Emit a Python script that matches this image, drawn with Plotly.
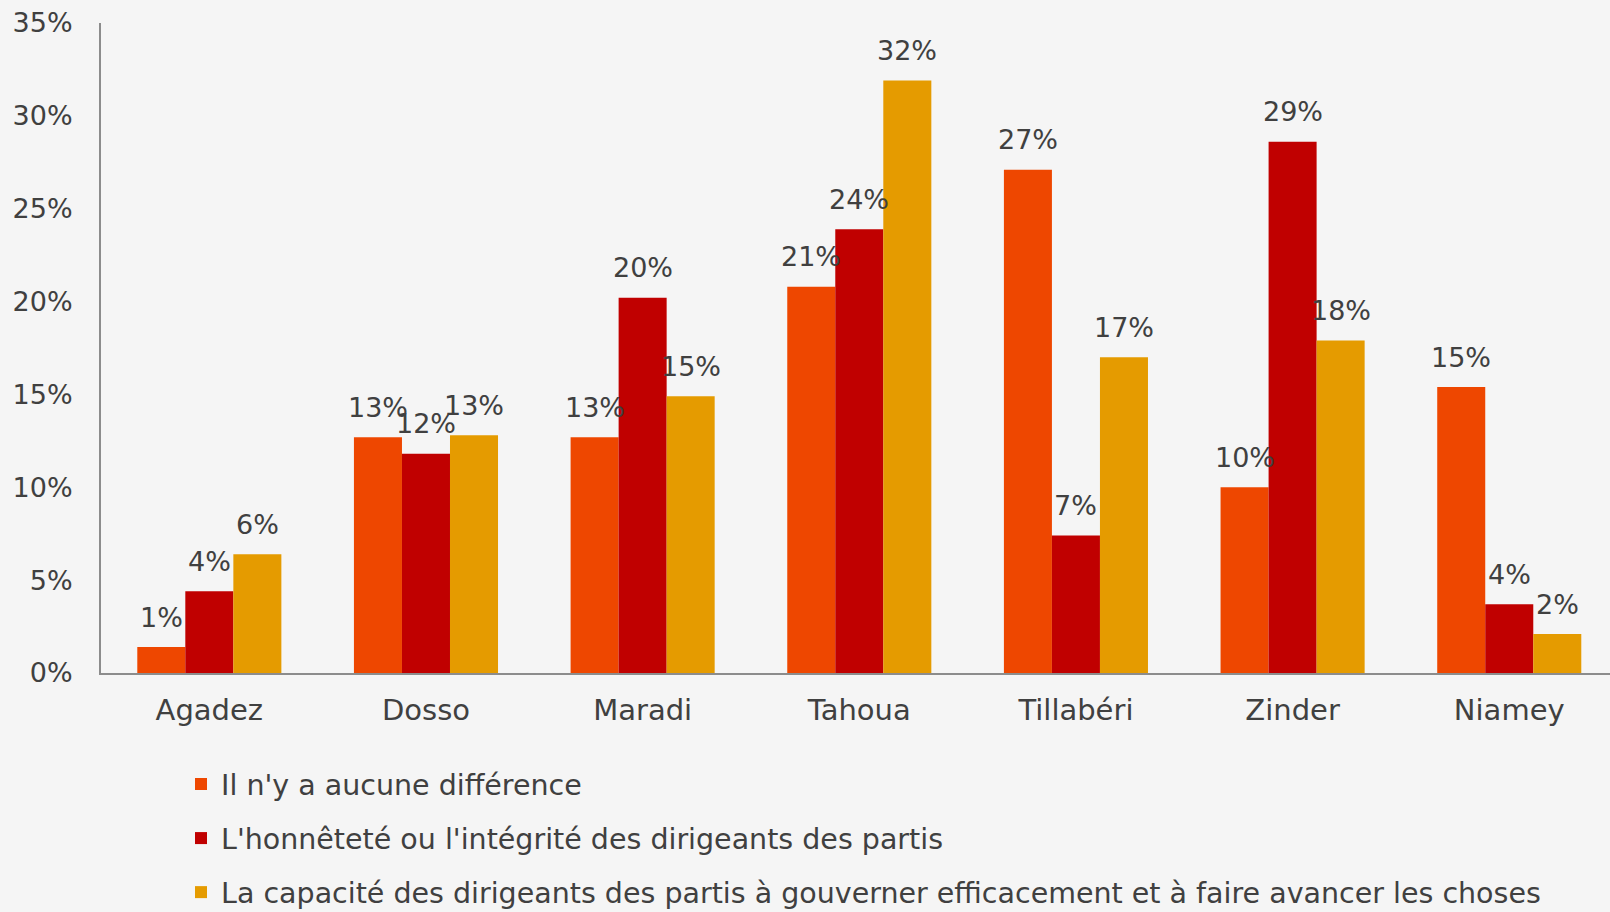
import plotly.graph_objects as go

regions = ["Agadez", "Dosso", "Maradi", "Tahoua", "Tillabéri", "Zinder", "Niamey"]
series_names = [
    "Il n'y a aucune différence",
    "L'honnêteté ou l'intégrité des dirigeants des partis",
    "La capacité des dirigeants des partis à gouverner efficacement et à faire avancer les choses",
]
aucune_difference = [1.4, 12.7, 12.7, 20.8, 27.1, 10.0, 15.4]
honnetete = [4.4, 11.8, 20.2, 23.9, 7.4, 28.6, 3.7]
capacite = [6.4, 12.8, 14.9, 31.9, 17.0, 17.9, 2.1]
labels_aucune = ["1%", "13%", "13%", "21%", "27%", "10%", "15%"]
labels_honnetete = ["4%", "12%", "20%", "24%", "7%", "29%", "4%"]
labels_capacite = ["6%", "13%", "15%", "32%", "17%", "18%", "2%"]
y_ticks = [0, 5, 10, 15, 20, 25, 30, 35]
y_tick_labels = ["0%", "5%", "10%", "15%", "20%", "25%", "30%", "35%"]

colors = ["#EE4700", "#C00000", "#E59B00"]
FONT = "DejaVu Sans"
TXT = "#404040"

all_values = [aucune_difference, honnetete, capacite]
all_labels = [labels_aucune, labels_honnetete, labels_capacite]

fig = go.Figure()
for i, (name, vals) in enumerate(zip(series_names, all_values)):
    fig.add_trace(go.Bar(
        x=regions, y=vals, name=name,
        marker=dict(color=colors[i], line=dict(width=0)),
        legendgroup=f"g{i}",
        hoverinfo="skip",
    ))

bar_px = 48.0
annotations = []
for i, (vals, labs) in enumerate(zip(all_values, all_labels)):
    for r, v, t in zip(regions, vals, labs):
        annotations.append(dict(
            x=r, y=v, xref="x", yref="y", text=t, showarrow=False,
            xshift=(i - 1) * bar_px, yshift=30, yanchor="middle",
            font=dict(family=FONT, size=27, color=TXT),
        ))

fig.update_layout(
    width=1610, height=912,
    margin=dict(l=101, r=0, t=23, b=239, autoexpand=False),
    paper_bgcolor="#F5F5F5", plot_bgcolor="#F5F5F5",
    barmode="group", bargap=0.335, bargroupgap=0,
    font=dict(family=FONT, size=28, color=TXT),
    showlegend=True,
    legend=dict(
        orientation="v", xref="container", yref="container",
        x=181 / 1610, y=1 - 759 / 912, xanchor="left", yanchor="top",
        bgcolor="rgba(0,0,0,0)", tracegroupgap=14,
        font=dict(family=FONT, size=28.5, color=TXT),
        itemwidth=30,
    ),
    annotations=annotations,
)
fig.update_xaxes(
    range=[-0.5, 6.465], showline=True, linecolor="#8C8C8C", linewidth=2,
    showgrid=False, ticks="", ticklabelstandoff=10, tickangle=0,
    tickfont=dict(family=FONT, size=29, color=TXT),
)
fig.update_yaxes(
    range=[0, 35], tickvals=y_ticks, ticktext=y_tick_labels, showline=True,
    linecolor="#8C8C8C", linewidth=2, showgrid=False, zeroline=False,
    ticks="", ticklabelstandoff=21,
    tickfont=dict(family=FONT, size=27, color=TXT),
)

fig.write_html(
    "out.html",
    config={"displayModeBar": False},
    post_script="document.body.style.margin='0';document.body.style.background='#F5F5F5';",
)
